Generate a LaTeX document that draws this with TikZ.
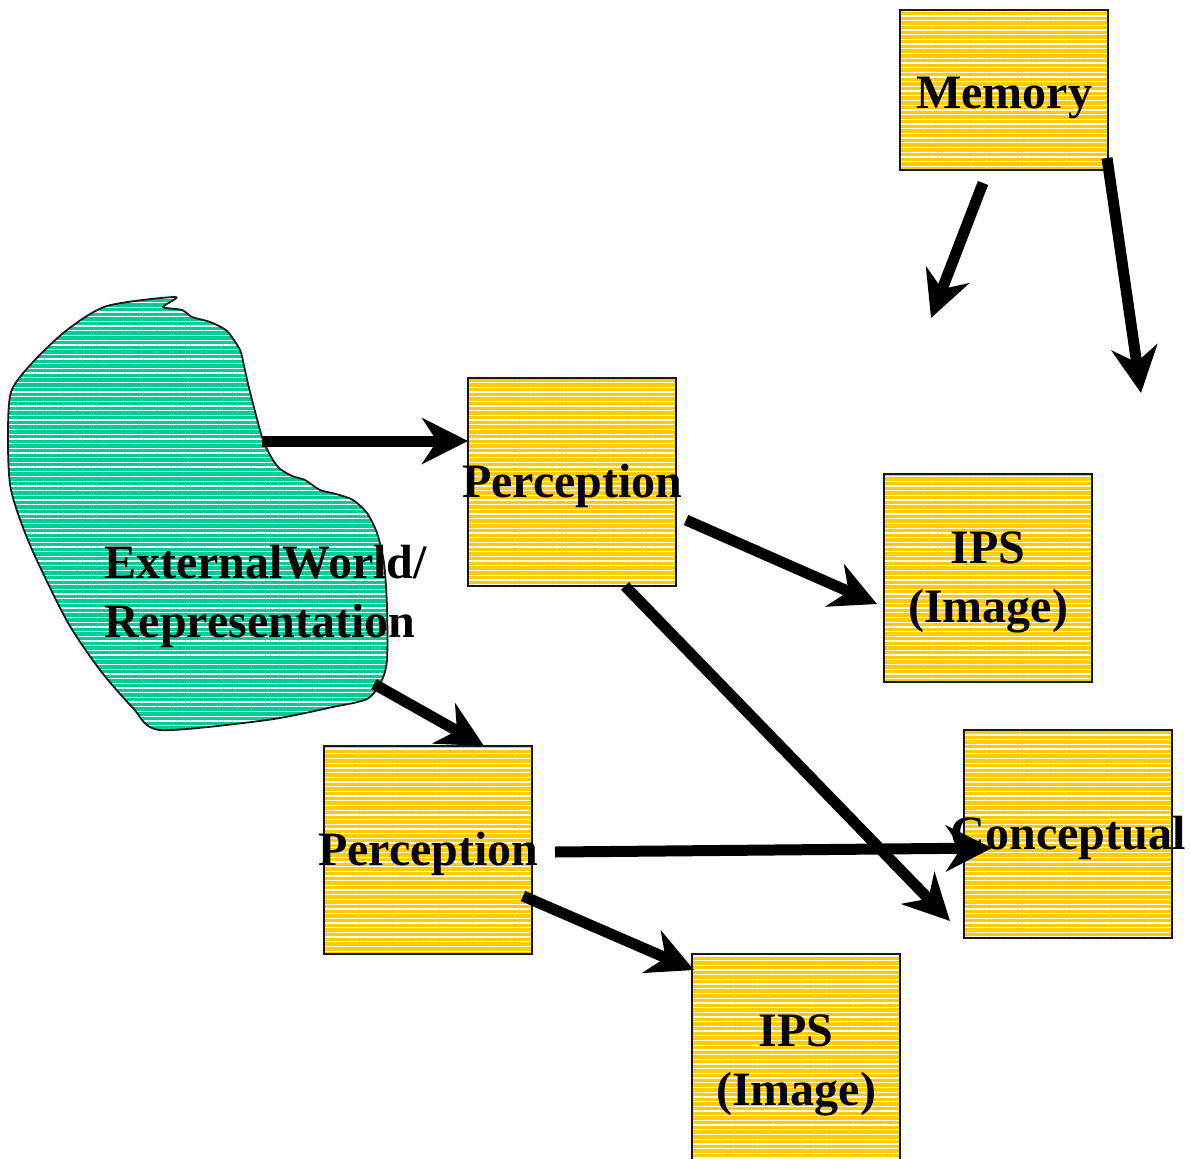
\documentclass[tikz,border=0pt]{standalone}
\usepackage{fontspec}
\setmainfont{Liberation Serif}
\usetikzlibrary{arrows.meta,patterns.meta}
\definecolor{gold}{HTML}{FFCC00}
\definecolor{teal}{HTML}{00CC99}
\tikzset{
  hatch/.style={postaction={pattern={Lines[angle=0,distance=4.7pt,line width=1.3pt]},pattern color=white}},
  outline/.style={postaction={draw=black!90,line width=1.8pt}},
  ybox/.style={fill=gold,hatch,outline,minimum width=208pt,minimum height=208pt,inner sep=0pt,anchor=north west},
  lbl/.style={font=\fontsize{48}{59}\selectfont\bfseries,align=center,inner sep=0pt},
  arr/.style={line width=11pt,-{Stealth[length=46pt,width=46pt,inset=15pt]}}
}
\begin{document}
\begin{tikzpicture}[x=1pt,y=-1pt]
\useasboundingbox[fill=white] (0,0) rectangle (1190,1158);
% blob
\path[fill=teal,hatch,outline] plot[smooth cycle,tension=0.45] coordinates{
 (107,306) (175,297) (163,307) (182,310) (192,317) (210,322) (227,331) (240,350) (244,366)
 (250,392) (262,437) (270,455) (279,468) (292,476) (305,480) (320,490) (336,494)
 (353,500) (367,513) (377,533) (384,563) (387,607) (387,660) (381,682) (367,699)
 (333,707) (267,720) (160,730) (133,708) (100,670) (67,621) (30,545) (11,490) (8,440)
 (11,392) (33,362) (67,330)};
\node[lbl,align=left,anchor=west] (ext) at (104,596) {ExternalWorld/\\Representation};
% boxes
\node[ybox,minimum height=160pt] (mem) at (900,10) {};
\node[lbl] (memt) at ([yshift=-8pt]mem.center) {Memory};
\node[ybox] (p1) at (468,378) {};
\node[lbl] (p1t) at ([yshift=-4pt]p1.center) {Perception};
\node[ybox] (ips1) at (884,474) {};
\node[lbl] (ips1t) at ([yshift=-4pt]ips1.center) {IPS\\(Image)};
\node[ybox] (con) at (964,730) {};
\node[lbl] (cont) at ([yshift=-4pt]con.center) {Conceptual};
\node[ybox] (p2) at (324,746) {};
\node[lbl] (p2t) at ([yshift=-4pt]p2.center) {Perception};
\node[ybox] (ips2) at (692,954) {};
\node[lbl] (ips2t) at ([yshift=-7pt]ips2.center) {IPS\\(Image)};
% arrow end points
\coordinate (a1s) at (262,441); \coordinate (a1e) at (p1.west |- a1s);
\coordinate (a2s) at (983,183); \coordinate (a2e) at (931,318);
\coordinate (a3s) at (1107,158); \coordinate (a3e) at (1141,393);
\coordinate (a4s) at (686,520); \coordinate (a4e) at (877,604);
\coordinate (a5s) at (625,586); \coordinate (a5e) at (950,921);
\coordinate (a6s) at (374,684); \coordinate (a6e) at (484,746);
\coordinate (a7s) at (555,852); \coordinate (a7e) at (992,848);
\coordinate (a8s) at (523,896); \coordinate (a8e) at (694,970);
\foreach \s/\e in {a1s/a1e,a2s/a2e,a3s/a3e,a4s/a4e,a5s/a5e,a6s/a6e,a7s/a7e,a8s/a8e}
  \draw[arr] (\s) -- (\e);
\end{tikzpicture}
\end{document}
